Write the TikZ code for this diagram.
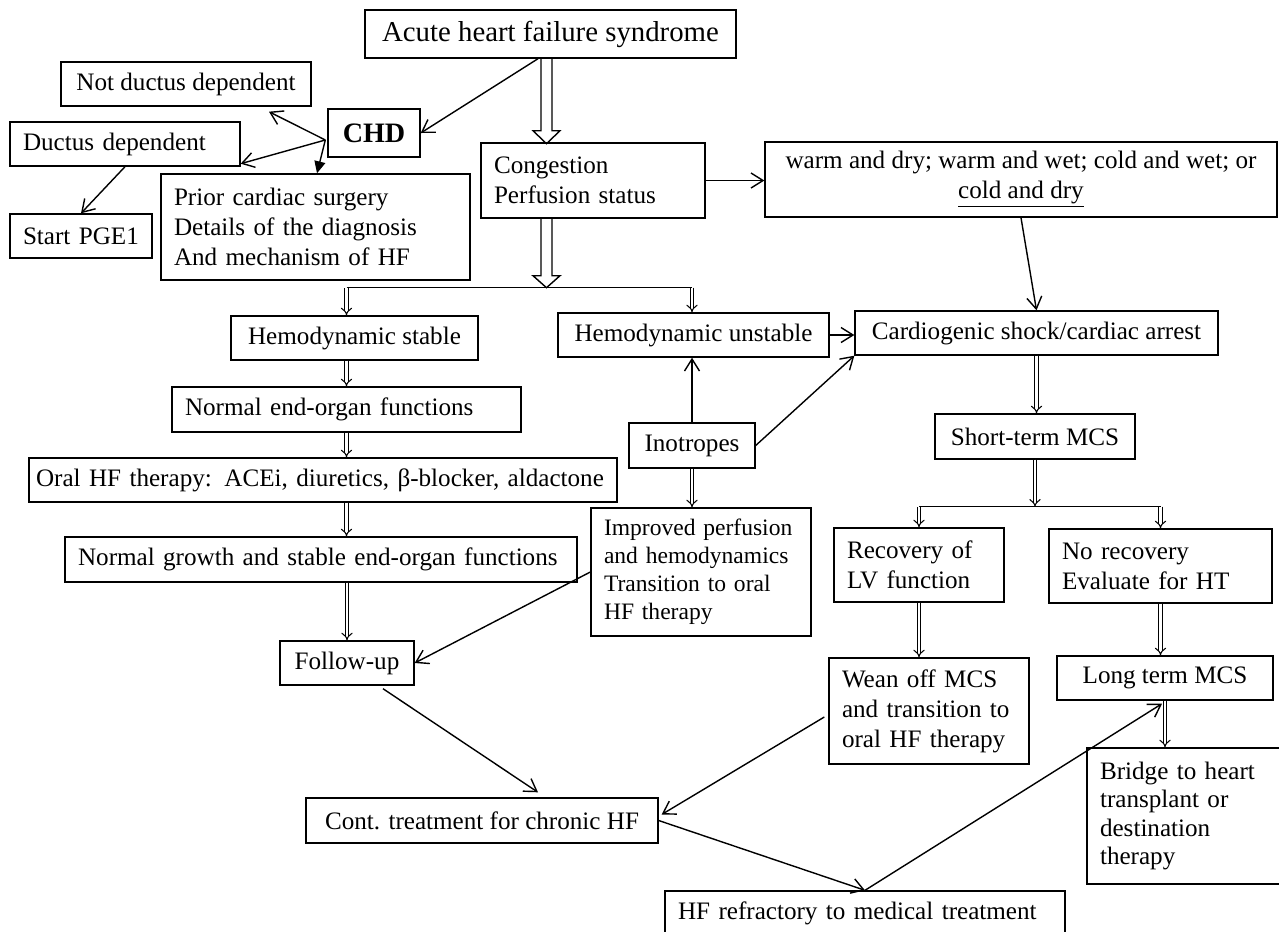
\documentclass[tikz,border=0pt]{standalone}
\usepackage{fontspec}
\setmainfont{Liberation Serif}
\usetikzlibrary{arrows.meta,calc}

\begin{document}
\begin{tikzpicture}[x=0.02cm,y=-0.02cm,
  box/.style={draw,line width=0.8pt,rectangle,inner sep=0pt,font=\fontsize{14.3}{17}\selectfont,minimum height=0.88cm},
  lbox/.style={box,align=left,inner xsep=0.26cm},
  thin/.style={line width=0.8pt,-{Straight Barb[length=2.4mm,width=3mm]}},
  dbl/.style={double,double distance=1.6pt,line width=0.6pt,-{Implies}},
  hollow/.style={line width=0.8pt}]
\useasboundingbox (0,0) rectangle (1279,931);
\clip (0,0) rectangle (1279,931);
% top part
\node[box,font=\fontsize{16.4}{19}\selectfont,minimum width=7.42cm,minimum height=0.96cm] (acute) at (550.5,34) {Acute heart failure syndrome};
\node[box,minimum width=5cm] (notduct) at (186,84) {Not ductus dependent};
\node[box,font=\fontsize{16}{19}\selectfont\bfseries,minimum width=1.84cm,minimum height=0.96cm] (chd) at (374,133) {CHD};
\node[lbox,text width=4.08cm] (duct) at (125,144) {Ductus dependent};
\node[lbox,text width=2.32cm] (pge) at (81,236) {Start PGE1};
\node[lbox,text width=5.66cm,minimum height=2.12cm] (prior) at (315.5,227) {Prior cardiac surgery\\Details of the diagnosis\\And mechanism of HF};
\node[lbox,text width=3.96cm,minimum height=1.5cm] (cong) at (593,180.5) {Congestion\\Perfusion status};
\node[box,align=center,minimum width=10.24cm,minimum height=1.5cm] (warm) at (1021,179.5) {warm and dry; warm and wet; cold and wet; or\\\underline{cold and dry}};
% left column
\node[box,minimum width=4.94cm] (stable) at (354.5,338) {Hemodynamic stable};
\node[lbox,text width=6.46cm,minimum height=0.9cm] (normal) at (346.5,409.5) {Normal end-organ functions};
\node[lbox,inner xsep=0.14cm,text width=11.48cm] (oral) at (323,480) {Oral HF therapy: ACEi, diuretics, β-blocker, aldactone};
\node[lbox,text width=9.72cm,minimum height=0.9cm] (growth) at (321,559.5) {Normal growth and stable end-organ functions};
\node[box,minimum width=2.68cm] (follow) at (347,663) {Follow-up};
\node[box,minimum width=7.04cm,minimum height=0.9cm] (cont) at (482,820.5) {Cont. treatment for chronic HF};
\node[lbox,text width=7.48cm] (refr) at (865,913) {HF refractory to medical treatment};
% middle
\node[box,minimum width=5.42cm] (unstable) at (693.5,335) {Hemodynamic unstable};
\node[box,minimum width=2.52cm,minimum height=0.9cm] (ino) at (692,445.5) {Inotropes};
\node[lbox,text width=3.88cm,minimum height=2.56cm,font=\fontsize{13.4}{16}\selectfont] (improved) at (701,572) {Improved perfusion\\and hemodynamics\\Transition to oral\\HF therapy};
% right column
\node[box,minimum width=7.26cm] (shock) at (1036.5,333) {Cardiogenic shock/cardiac arrest};
\node[box,minimum width=4cm,minimum height=0.9cm] (short) at (1035,436.5) {Short-term MCS};
\node[lbox,text width=2.88cm,minimum height=1.48cm] (recov) at (919,565) {Recovery of\\LV function};
\node[lbox,text width=3.94cm,minimum height=1.48cm] (norecov) at (1160.5,566) {No recovery\\Evaluate for HT};
\node[lbox,text width=3.48cm,minimum height=2.12cm] (wean) at (929,711) {Wean off MCS\\and transition to\\oral HF therapy};
\node[box,minimum width=4.32cm] (longterm) at (1165,678) {Long term MCS};
\node[lbox,text width=3.44cm,minimum height=2.72cm,font=\fontsize{14.3}{16.2}\selectfont] (bridge) at (1186,816) {Bridge to heart\\transplant or\\destination\\therapy};
% hollow arrows
\draw[hollow] ($(acute.south)+(-9.5,0)$) -- ++(0,72) -- ++(-8,0) -- ++(13.5,13) -- ++(13.5,-13) -- ++(-8,0) -- ++(0,-72);
\draw[hollow] ($(cong.south)+(-52,0)$) -- ++(0,57) -- ++(-8,0) -- ++(13.5,12) -- ++(13.5,-12) -- ++(-8,0) -- ++(0,-57);
\coordinate (fork) at ($(cong.south)+(-46.5,69)$);
\draw[line width=0.8pt] (fork -| normal.north) -- (fork -| ino.north);
% double arrows
\draw[dbl] (fork -| normal.north) -- (stable.north -| normal.north);
\draw[dbl] (fork -| ino.north) -- (unstable.north -| ino.north);
\draw[dbl] (stable.south -| normal.north) -- (normal.north);
\draw[dbl] (normal.south) -- (oral.north -| normal.south);
\draw[dbl] (oral.south -| normal.south) -- (growth.north -| normal.south);
\draw[dbl] (growth.south -| follow.north) -- (follow.north);
\draw[dbl] (ino.south) -- (improved.north -| ino.south);
\draw[dbl] (shock.south) -- (short.north -| shock.south);
\coordinate (mcsfork) at ($(short.south)+(0,47)$);
\draw[dbl] (short.south) -- (mcsfork);
\draw[line width=0.8pt] (mcsfork -| recov.north) -- (mcsfork -| norecov.north);
\draw[dbl] (mcsfork -| recov.north) -- (recov.north);
\draw[dbl] (mcsfork -| norecov.north) -- (norecov.north);
\draw[dbl] (recov.south) -- (wean.north -| recov.south);
\draw[dbl] (norecov.south) -- (longterm.north -| norecov.south);
\draw[dbl] (longterm.south) -- (bridge.north -| longterm.south);
% single arrows
\draw[thin] ($(acute.south)+(-12.5,0)$) -- (chd.east);
\coordinate (chdout) at ($(chd.west)+(-2,7)$);
\draw[thin] (chdout) -- ($(notduct.south)+(83,5)$);
\draw[thin] (chdout) -- ($(duct.south east)+(0,-3)$);
\draw[line width=0.8pt,-{Triangle[length=2.4mm,width=2.2mm]}] (chdout) -- ($(prior.north)+(1.5,0)$);
\draw[thin] (duct.south) -- (pge.north);
\draw[thin] (cong.east) -- (cong.east -| warm.west);
\draw[thin] (warm.south) -- (shock.north);
\draw[thin] (unstable.east) -- (unstable.east -| shock.west);
\draw[thin] (ino.north) -- (unstable.south -| ino.north);
\draw[thin] (ino.east) -- (shock.south west);
\draw[thin] (improved.west) -- (follow.east);
\draw[thin] ($(follow.south)+(36,3)$) -- ($(cont.north)+(56,-5)$);
\draw[thin] ($(wean.west)+(-4,6)$) -- ($(cont.east)+(3,-6)$);
\draw[thin] (cont.east) -- (refr.north);
\draw[thin] (refr.north) -- ($(longterm.south)+(-3,3)$);
\end{tikzpicture}
\end{document}
